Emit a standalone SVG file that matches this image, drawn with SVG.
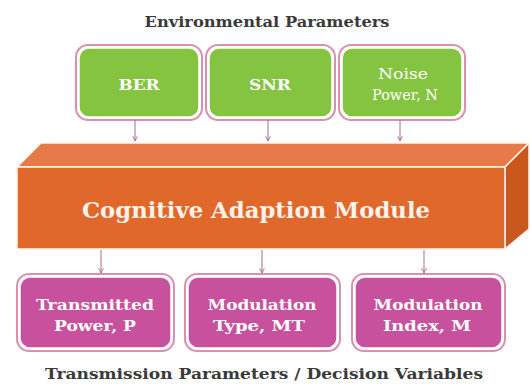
<svg xmlns="http://www.w3.org/2000/svg" width="530" height="390" viewBox="0 0 530 390">
  <defs>
    <style>
      .title { font-family: "DejaVu Serif", "Liberation Serif", serif; font-size: 15px; font-weight: bold; fill: #3a3a3a; text-anchor: middle; }
      .lbl { font-family: "DejaVu Serif", "Liberation Serif", serif; font-size: 14.5px; font-weight: bold; fill: #ffffff; text-anchor: middle; }
      .reg { font-weight: normal; }
      .big { font-family: "DejaVu Serif", "Liberation Serif", serif; font-size: 23px; font-weight: bold; fill: #fdf2ea; text-anchor: middle; }
      .outer { fill: #ffffff; stroke: #dd8fb0; stroke-width: 2; }
      .green { fill: #84c441; stroke: #ffffff; stroke-width: 1.5; }
      .pink { fill: #c8519d; stroke: #ffffff; stroke-width: 1.5; }
      .conn { stroke: #a56a8c; stroke-width: 1; fill: none; }
      .face { stroke: #fff6ee; stroke-width: 1.5; stroke-linejoin: round; }
    </style>
    <marker id="arr" viewBox="0 0 10 10" refX="9" refY="5" markerWidth="6" markerHeight="6" orient="auto">
      <path d="M1,1 L9,5 L1,9" fill="none" stroke="#a56a8c" stroke-width="1.5"/>
    </marker>
  </defs>
  <rect width="530" height="390" fill="#ffffff"/>

  <text class="title" x="267" y="27" textLength="245" lengthAdjust="spacingAndGlyphs">Environmental Parameters</text>

  <g id="n-ber">
    <rect class="outer" x="76" y="45" width="126" height="75" rx="12"/>
    <rect class="green" x="79" y="48" width="120" height="69" rx="10"/>
    <text class="lbl" x="139" y="90" textLength="41" lengthAdjust="spacingAndGlyphs">BER</text>
  </g>
  <g id="n-snr">
    <rect class="outer" x="206" y="45" width="129" height="75" rx="12"/>
    <rect class="green" x="209" y="48" width="123" height="69" rx="10"/>
    <text class="lbl" x="270" y="90" textLength="42" lengthAdjust="spacingAndGlyphs">SNR</text>
  </g>
  <g id="n-noise">
    <rect class="outer" x="339" y="45" width="126" height="75" rx="12"/>
    <rect class="green" x="342" y="48" width="120" height="69" rx="10"/>
    <text class="lbl reg" x="403" y="79" textLength="50" lengthAdjust="spacingAndGlyphs">Noise</text>
    <text class="lbl reg" x="405" y="100" textLength="66" lengthAdjust="spacingAndGlyphs">Power, N</text>
  </g>

  <g id="n-cam">
    <polygon class="face" points="17,167 41,143 529,143 505,167" fill="#e67a48"/>
    <polygon class="face" points="505,167 529,143 529,229 505,249" fill="#c9581f"/>
    <rect class="face" x="17" y="167" width="488" height="82" fill="#e1682b"/>
    <text class="big" x="256" y="218" textLength="348" lengthAdjust="spacingAndGlyphs">Cognitive Adaption Module</text>
  </g>

  <g id="n-tp">
    <rect class="outer" x="17" y="274" width="157" height="77" rx="12"/>
    <rect class="pink" x="20" y="277" width="151" height="71" rx="10"/>
    <text class="lbl" x="95" y="310" textLength="118" lengthAdjust="spacingAndGlyphs">Transmitted</text>
    <text class="lbl" x="95" y="331" textLength="82" lengthAdjust="spacingAndGlyphs">Power, P</text>
  </g>
  <g id="n-mt">
    <rect class="outer" x="185" y="274" width="155" height="77" rx="12"/>
    <rect class="pink" x="188" y="277" width="149" height="71" rx="10"/>
    <text class="lbl" x="262" y="310" textLength="109" lengthAdjust="spacingAndGlyphs">Modulation</text>
    <text class="lbl" x="259" y="331" textLength="92" lengthAdjust="spacingAndGlyphs">Type, MT</text>
  </g>
  <g id="n-mi">
    <rect class="outer" x="352" y="274" width="153" height="77" rx="12"/>
    <rect class="pink" x="355" y="277" width="147" height="71" rx="10"/>
    <text class="lbl" x="428" y="310" textLength="109" lengthAdjust="spacingAndGlyphs">Modulation</text>
    <text class="lbl" x="427" y="331" textLength="88" lengthAdjust="spacingAndGlyphs">Index, M</text>
  </g>

  <g id="connectors">
    <line class="conn" x1="135" y1="120" x2="135" y2="141" marker-end="url(#arr)"/>
    <line class="conn" x1="268" y1="120" x2="268" y2="141" marker-end="url(#arr)"/>
    <line class="conn" x1="400" y1="120" x2="400" y2="141" marker-end="url(#arr)"/>
    <line class="conn" x1="101" y1="250" x2="101" y2="273" marker-end="url(#arr)"/>
    <line class="conn" x1="262" y1="250" x2="262" y2="273" marker-end="url(#arr)"/>
    <line class="conn" x1="424" y1="250" x2="424" y2="273" marker-end="url(#arr)"/>
  </g>

  <text class="title" x="264" y="379" textLength="438" lengthAdjust="spacingAndGlyphs">Transmission Parameters / Decision Variables</text>
</svg>
